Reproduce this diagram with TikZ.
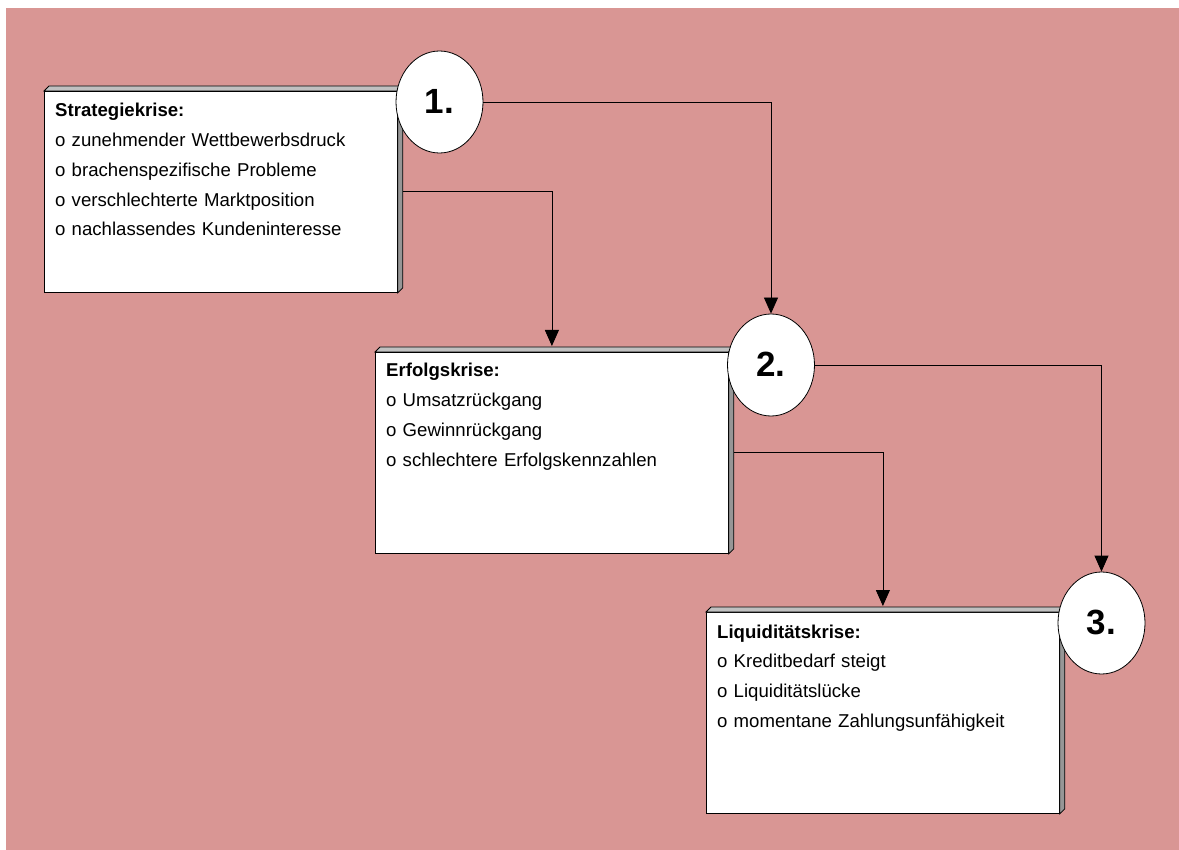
\documentclass[tikz,border=0pt]{standalone}
\usepackage{fontspec}
\setmainfont{Liberation Sans}
\usetikzlibrary{arrows.meta,shapes.geometric}
\definecolor{rosa}{HTML}{D99694}
\definecolor{kanteoben}{HTML}{C0C0C0}
\definecolor{kanterechts}{HTML}{969696}
% schraege Kante oben und rechts an einem Kasten
\newcommand{\kante}[1]{%
  \filldraw[fill=kanteoben,draw=black,line width=0.8pt] (#1.north west) -- ++(5,-5) -- ([shift={(5,-5)}]#1.north east) -- (#1.north east) -- cycle;
  \filldraw[fill=kanterechts,draw=black,line width=0.8pt] (#1.north east) -- ++(5,-5) -- ([shift={(5,-5)}]#1.south east) -- (#1.south east) -- cycle;}

\begin{document}
\begin{tikzpicture}[x=1pt,y=-1pt,
  krise/.style={draw=black,fill=white,line width=0.8pt,anchor=north west,minimum width=353pt,minimum height=201pt,inner sep=0pt},
  inhalt/.style={anchor=base west,inner sep=0pt,align=left,text width=330pt,font=\fontsize{18.6pt}{29.7pt}\selectfont},
  nr/.style={ellipse,draw=black,fill=white,line width=0.8pt,minimum width=87pt,minimum height=102pt,inner sep=0pt,font=\fontsize{35pt}{35pt}\selectfont\bfseries},
  pfeil/.style={draw=black,line width=0.8pt,-{Triangle[length=16pt,width=14pt]}}]
  \useasboundingbox (0,0) rectangle (1179,850);
  \fill[white] (0,0) rectangle (1179,850);
  \fill[rosa] (6,8) rectangle (1179,850);

  % 1. Strategiekrise
  \node[krise] (sk) at (44,91) {};
  \kante{sk}
  \node[inhalt] (skt) at ([shift={(11,26)}]sk.north west) {\textbf{Strategiekrise:}\\
    o zunehmender Wettbewerbsdruck\\ o brachenspezifische Probleme\\
    o verschlechterte Marktposition\\ o nachlassendes Kundeninteresse};
  \node[nr] (n1) at (439.5,102) {\raisebox{2pt}{1.}};

  % 2. Erfolgskrise
  \node[krise] (ek) at (375,352) {};
  \kante{ek}
  \node[inhalt] (ekt) at ([shift={(11,25)}]ek.north west) {\textbf{Erfolgskrise:}\\
    o Umsatzr\"uckgang\\ o Gewinnr\"uckgang\\ o schlechtere Erfolgskennzahlen};
  \node[nr] (n2) at (771,365) {\raisebox{2pt}{2.}};

  % 3. Liquiditaetskrise
  \node[krise] (lk) at (706,612) {};
  \kante{lk}
  \node[inhalt] (lkt) at ([shift={(11,26)}]lk.north west) {\textbf{Liquidit\"atskrise:}\\
    o Kreditbedarf steigt\\ o Liquidit\"atsl\"ucke\\ o momentane Zahlungsunf\"ahigkeit};
  \node[nr] (n3) at (1101.5,623) {\raisebox{2pt}{3.}};

  % Verbindungen
  \draw[pfeil] (n1.east) -| (n2.north);
  \draw[pfeil] (n2.east) -| (n3.north);
  \draw[pfeil] ([xshift=5pt]sk.east) -| ([yshift=6pt]ek.north);
  \draw[pfeil] ([xshift=5pt]ek.east) -| ([yshift=6pt]lk.north);
\end{tikzpicture}
\end{document}
